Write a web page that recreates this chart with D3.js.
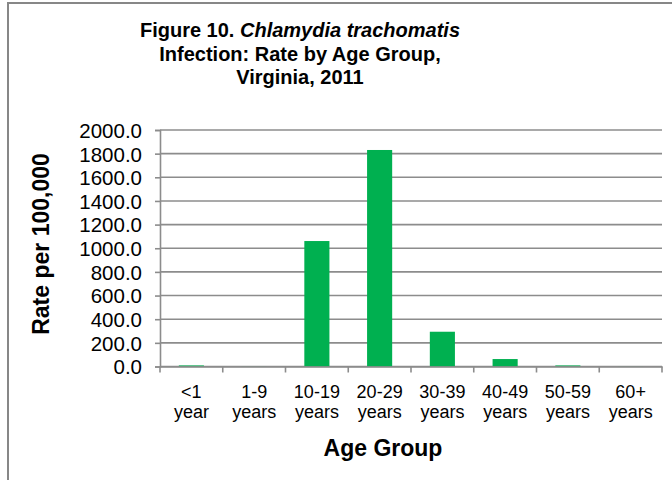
<!DOCTYPE html>
<html>
<head>
<meta charset="utf-8">
<script src="https://cdn.jsdelivr.net/npm/d3@7"></script>
<style>
  body { margin: 0; background: #fff; }
  text { font-family: "Liberation Sans", Arial, sans-serif; fill: #000; }
  .axisTitle { font-size: 23px; font-weight: bold; }
  .chartTitle { font-size: 20px; font-weight: bold; }
</style>
</head>
<body>
<div id="chart"></div>
<script>
// chart values
var ageGroups = ["<1 year", "1-9 years", "10-19 years", "20-29 years", "30-39 years", "40-49 years", "50-59 years", "60+ years"];
var rates = [9.0, 1.0, 1061.0, 1831.0, 294.0, 63.0, 9.0, 1.0];
var yTicks = [0, 200, 400, 600, 800, 1000, 1200, 1400, 1600, 1800, 2000];
var titleLines = ["Figure 10. |Chlamydia trachomatis", "Infection: Rate by Age Group,", "Virginia, 2011"];

var svgWidth = 672;
var svgHeight = 480;

var margin = { top: 130, right: 10, bottom: 113.5, left: 160 };
var chartWidth = svgWidth - margin.left - margin.right;
var chartHeight = svgHeight - margin.top - margin.bottom;

var svg = d3.select("#chart")
    .append("svg")
    .attr("width", svgWidth)
    .attr("height", svgHeight);

// outer frame of the chart
svg.append("rect")
    .attr("x", 8)
    .attr("y", 3)
    .attr("width", 700)
    .attr("height", 520)
    .attr("fill", "none")
    .attr("stroke", "#878787")
    .attr("stroke-width", 2);

var chartGroup = svg.append("g")
    .attr("transform", `translate(${margin.left}, ${margin.top})`);

var xScale = d3.scaleBand()
    .domain(ageGroups)
    .range([0, chartWidth])
    .padding(0);

var yScale = d3.scaleLinear()
    .domain([0, 2000])
    .range([chartHeight, 0]);

// gridlines
chartGroup.append("g")
    .selectAll("line")
    .data(yTicks)
    .enter()
    .append("line")
    .attr("x1", 0)
    .attr("x2", chartWidth)
    .attr("y1", d => yScale(d))
    .attr("y2", d => yScale(d))
    .attr("stroke", "#8c8c8c")
    .attr("stroke-width", 1.6);

// bars
var barWidth = xScale.bandwidth() * 0.4;
chartGroup.selectAll(".bar")
    .data(ageGroups)
    .enter()
    .append("rect")
    .attr("class", "bar")
    .attr("x", d => xScale(d) + (xScale.bandwidth() - barWidth) / 2)
    .attr("width", barWidth)
    .attr("y", (d, i) => yScale(rates[i]))
    .attr("height", (d, i) => chartHeight - yScale(rates[i]))
    .attr("fill", "#00b050");

// y axis
var leftAxis = d3.axisLeft(yScale)
    .tickValues(yTicks)
    .tickFormat(d => d.toFixed(1))
    .tickSize(5)
    .tickPadding(13);

var yAxisG = chartGroup.append("g").call(leftAxis);
yAxisG.select(".domain").attr("stroke", "#8c8c8c").attr("stroke-width", 1.6);
yAxisG.selectAll(".tick line").attr("stroke", "#8c8c8c").attr("stroke-width", 1.6);
yAxisG.selectAll(".tick text").attr("font-size", 20.5).attr("dy", "0.36em");

// x axis (labels only, boundary ticks below)
var bottomAxis = d3.axisBottom(xScale).tickSize(0).tickPadding(0);
var xAxisG = chartGroup.append("g")
    .attr("transform", `translate(0, ${chartHeight})`)
    .call(bottomAxis);
xAxisG.select(".domain").attr("stroke", "#8c8c8c").attr("stroke-width", 1.6);

xAxisG.selectAll(".tick text")
    .attr("font-size", 18)
    .attr("y", 0)
    .attr("dy", null)
    .each(function(d) {
        var parts = d.split(" ");
        var t = d3.select(this).text(null);
        t.append("tspan").attr("x", 0).attr("y", 31).text(parts[0]);
        t.append("tspan").attr("x", 0).attr("y", 51).text(parts[1]);
    });

var boundaries = ageGroups.map(d => xScale(d)).concat([chartWidth]);
xAxisG.selectAll(".bound")
    .data(boundaries)
    .enter()
    .append("line")
    .attr("class", "bound")
    .attr("x1", d => d)
    .attr("x2", d => d)
    .attr("y1", 0)
    .attr("y2", 6)
    .attr("stroke", "#8c8c8c")
    .attr("stroke-width", 1.6);

// axis titles
svg.append("text")
    .attr("class", "axisTitle")
    .attr("text-anchor", "middle")
    .attr("x", 383)
    .attr("y", 456)
    .text("Age Group");

svg.append("text")
    .attr("class", "axisTitle")
    .attr("text-anchor", "middle")
    .attr("transform", "translate(49, 244) rotate(-90)")
    .text("Rate per 100,000");

// chart title
var title = svg.append("text")
    .attr("class", "chartTitle")
    .attr("text-anchor", "middle");

titleLines.forEach(function(line, i) {
    var ts = title.append("tspan")
        .attr("x", 300)
        .attr("y", 37 + i * 23.5);
    var bits = line.split("|");
    ts.append("tspan").text(bits[0]);
    if (bits.length > 1) {
        ts.append("tspan").attr("font-style", "italic").text(bits[1]);
    }
});
</script>
</body>
</html>
